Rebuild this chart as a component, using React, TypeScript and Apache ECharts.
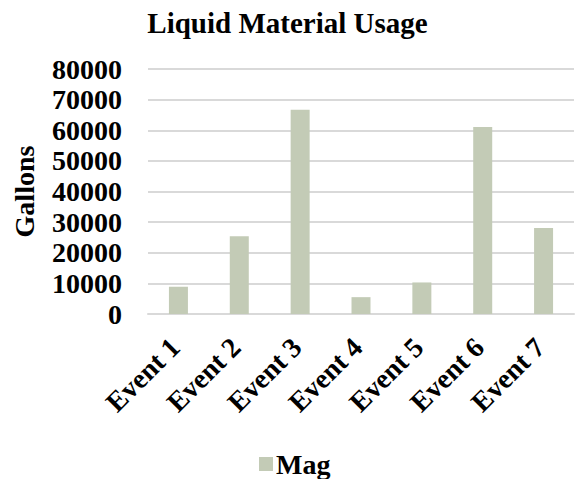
import React, { useEffect, useRef } from "react";
import * as echarts from "echarts";

const categories = ["Event 1", "Event 2", "Event 3", "Event 4", "Event 5", "Event 6", "Event 7"];
const magValues = [8900, 25400, 66700, 5500, 10300, 61100, 28100];
const yTicks = { min: 0, max: 80000, interval: 10000 };

const FONT = "'Liberation Serif', 'Times New Roman', serif";

export default function App() {
  const ref = useRef<HTMLDivElement>(null);
  useEffect(() => {
    if (!ref.current) return;
    const chart = echarts.init(ref.current, null, { renderer: "svg" });
    chart.setOption({
      animation: false,
      backgroundColor: "#ffffff",
      title: {
        text: "Liquid Material Usage",
        left: "center",
        top: 3,
        textStyle: { fontFamily: FONT, fontWeight: "bold", fontSize: 29, color: "#000" },
      },
      legend: {
        data: ["Mag"],
        top: 445,
        left: 254,
        icon: "rect",
        itemWidth: 14,
        itemHeight: 14,
        itemGap: 6,
        textStyle: {
          fontFamily: FONT,
          fontWeight: "bold",
          fontSize: 28,
          color: "#000",
          padding: [0, 0, 12, -2],
        },
      },
      grid: { left: 148, right: 1, top: 69, bottom: 165, containLabel: false },
      xAxis: {
        type: "category",
        data: categories,
        axisLine: { show: true, lineStyle: { color: "#d9d9d9", width: 2 } },
        axisTick: { show: false },
        axisLabel: {
          rotate: 45,
          interval: 0,
          margin: 25,
          padding: [0, 5, 0, 0],
          fontFamily: FONT,
          fontWeight: "bold",
          fontSize: 28,
          color: "#000",
        },
      },
      yAxis: {
        type: "value",
        min: yTicks.min,
        max: yTicks.max,
        interval: yTicks.interval,
        name: "Gallons",
        nameLocation: "middle",
        nameRotate: 90,
        nameGap: 110,
        nameTextStyle: { fontFamily: FONT, fontWeight: "bold", fontSize: 28, color: "#000" },
        axisLine: { show: false },
        axisTick: { show: false },
        splitLine: { show: true, lineStyle: { color: "#d9d9d9", width: 2 } },
        axisLabel: {
          margin: 26,
          formatter: (v: number) => String(v),
          fontFamily: FONT,
          fontWeight: "bold",
          fontSize: 28,
          color: "#000",
        },
      },
      series: [
        {
          name: "Mag",
          type: "bar",
          data: magValues,
          barWidth: 19,
          itemStyle: { color: "#c3cbb6" },
        },
      ],
    });
    return () => chart.dispose();
  }, []);
  return (
    <div
      ref={ref}
      style={{ position: "absolute", left: 0, top: 0, width: 575, height: 479 }}
    />
  );
}
